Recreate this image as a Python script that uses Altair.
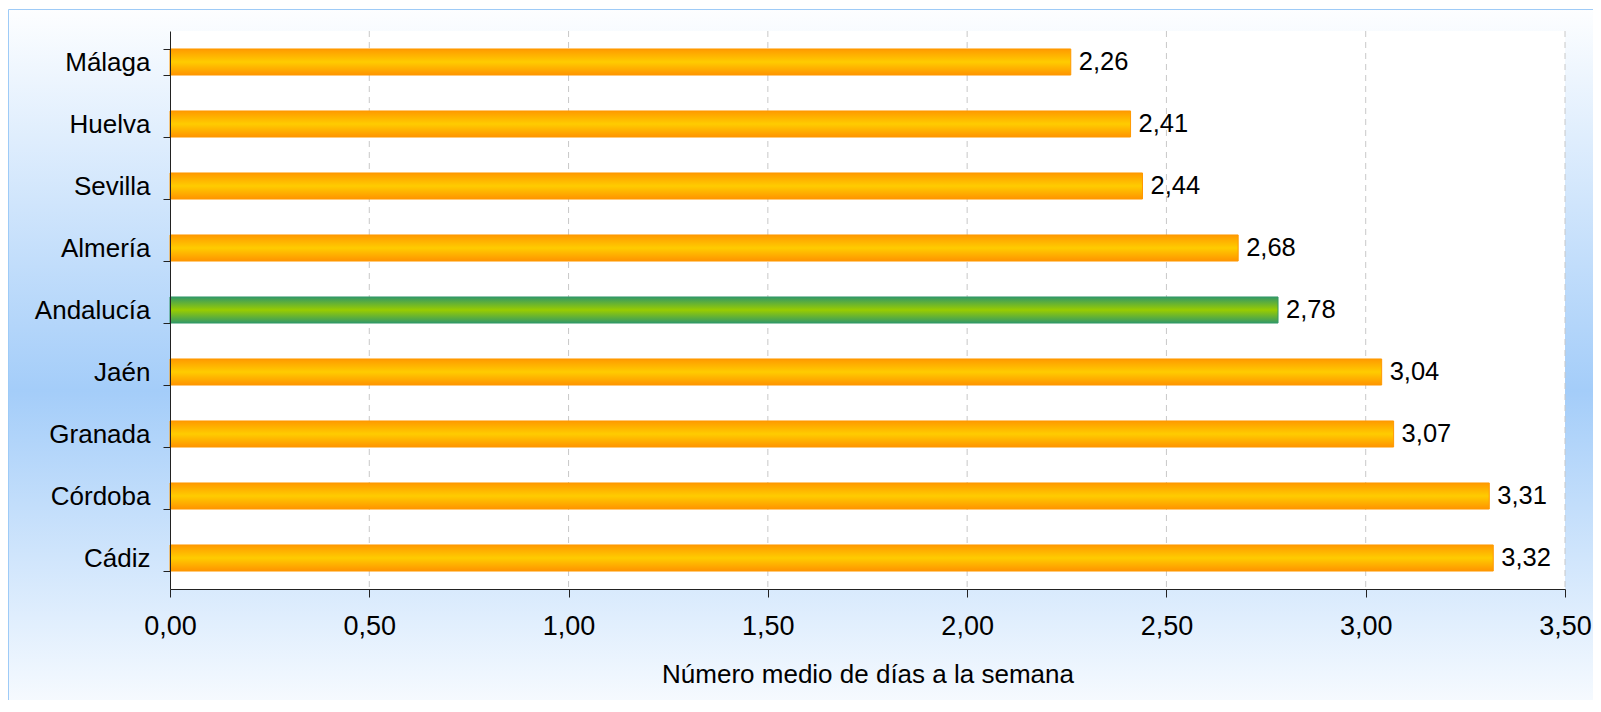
import altair as alt
import pandas as pd

# ---- data ----
provincias = ["Málaga", "Huelva", "Sevilla", "Almería", "Andalucía",
              "Jaén", "Granada", "Córdoba", "Cádiz"]
valores = [2.26, 2.41, 2.44, 2.68, 2.78, 3.04, 3.07, 3.31, 3.32]
tipo = ["prov", "prov", "prov", "prov", "total", "prov", "prov", "prov", "prov"]
x_ticks = [0.0, 0.5, 1.0, 1.5, 2.0, 2.5, 3.0, 3.5]
x_title = "Número medio de días a la semana"

df = pd.DataFrame({
    "provincia": provincias,
    "valor": valores,
    "tipo": tipo,
    "label": [f"{v:.2f}".replace(".", ",") for v in valores],
})
grid_df = pd.DataFrame({"t": x_ticks[1:]})
one = pd.DataFrame({"a": [0]})

W, H = 1395, 558
FONT = "Liberation Sans"

orange = alt.LinearGradient(
    gradient="linear", x1=0, x2=0, y1=0, y2=1,
    stops=[alt.GradientStop(offset=0, color="#ff9a00"),
           alt.GradientStop(offset=0.5, color="#ffcc00"),
           alt.GradientStop(offset=1, color="#ff9400")])
green = alt.LinearGradient(
    gradient="linear", x1=0, x2=0, y1=0, y2=1,
    stops=[alt.GradientStop(offset=0, color="#339966"),
           alt.GradientStop(offset=0.5, color="#99cc00"),
           alt.GradientStop(offset=1, color="#339966")])
bg = alt.LinearGradient(
    gradient="linear", x1=0, x2=0, y1=0, y2=1,
    stops=[alt.GradientStop(offset=0, color="#fdfeff"),
           alt.GradientStop(offset=0.53, color="#a4cdf9"),
           alt.GradientStop(offset=1, color="#fdfeff")])

background = alt.Chart(one).mark_rect(
    fill=bg, stroke="#9ecbf7", strokeWidth=1
).encode(
    x=alt.value(-161.5), x2=alt.value(W + 60),
    y=alt.value(-21.5), y2=alt.value(H + 140)
)

plot_bg = alt.Chart(one).mark_rect(fill="white").encode(
    x=alt.value(0), x2=alt.value(W), y=alt.value(0), y2=alt.value(H)
)

xscale = alt.Scale(domain=[0, 3.5], nice=False, zero=True)
yscale = alt.Scale(domain=provincias, paddingInner=0.58, paddingOuter=0.29)

grid = alt.Chart(grid_df).mark_rule(
    color="#c8c8c8", strokeDash=[6, 5], strokeWidth=1
).encode(x=alt.X("t:Q", scale=xscale))

xaxis = alt.Axis(
    values=x_ticks, labelExpr="replace(format(datum.value, '.2f'), '.', ',')",
    title=x_title, grid=False, zindex=1, labelFlush=False,
    labelFont=FONT, labelFontSize=27, labelColor="black", labelPadding=16,
    titleFont=FONT, titleFontSize=26, titleFontWeight="normal", titleColor="black",
    titlePadding=22, tickSize=8, tickColor="#222222", domainColor="#222222",
)
yaxis = alt.Axis(
    title=None, grid=False, zindex=1, tickBand="extent",
    labelFont=FONT, labelFontSize=26, labelColor="black", labelPadding=13,
    tickSize=7, tickColor="#222222", domainColor="#222222",
)

base = alt.Chart(df).encode(
    x=alt.X("valor:Q", scale=xscale, axis=xaxis),
    y=alt.Y("provincia:N", scale=yscale, sort=provincias, axis=yaxis),
)

bars_o = base.transform_filter(alt.datum.tipo == "prov").mark_bar(
    fill=orange, stroke="#ff9900", strokeWidth=1)
bars_g = base.transform_filter(alt.datum.tipo == "total").mark_bar(
    fill=green, stroke="#339966", strokeWidth=1)
labels = base.mark_text(
    align="left", dx=8, font=FONT, fontSize=25.5, color="black"
).encode(text="label:N")

chart = alt.layer(background, plot_bg, grid, bars_o, bars_g, labels).properties(
    width=W, height=H,
    autosize=alt.AutoSizeParams(type="none"),
    padding={"left": 162, "top": 23, "right": 28, "bottom": 111},
).configure_view(stroke=None)

chart.save("out.html", embed_options={"renderer": "svg", "actions": False})
